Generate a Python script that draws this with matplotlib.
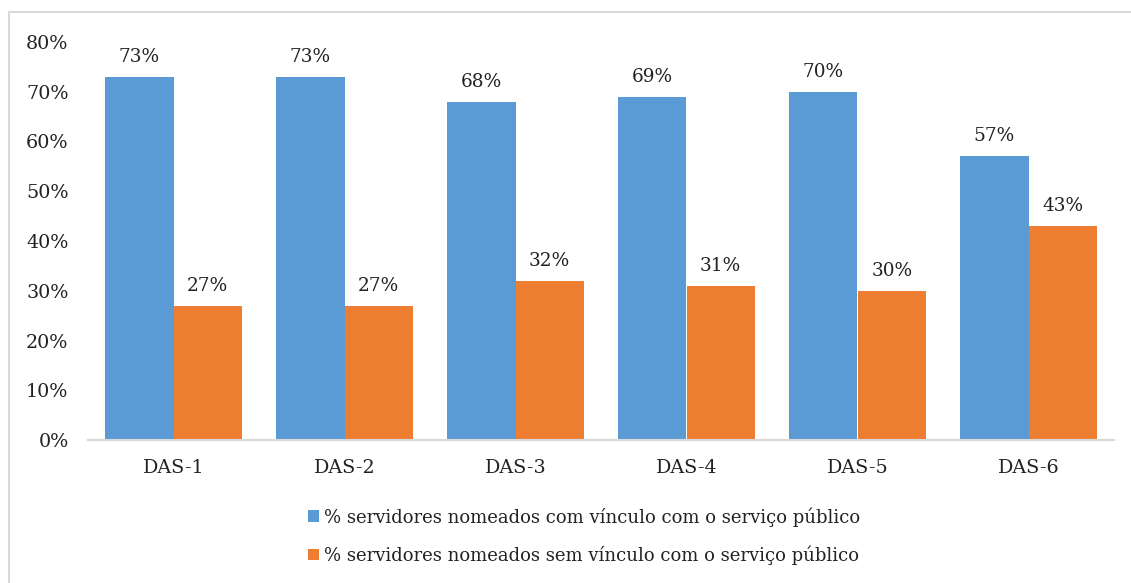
import matplotlib
matplotlib.use("Agg")
import matplotlib.pyplot as plt
from matplotlib.patches import Rectangle
import numpy as np

# dados
categorias = ["DAS-1", "DAS-2", "DAS-3", "DAS-4", "DAS-5", "DAS-6"]
com_vinculo = [0.73, 0.73, 0.68, 0.69, 0.70, 0.57]
sem_vinculo = [0.27, 0.27, 0.32, 0.31, 0.30, 0.43]
rotulos_com = ["73%", "73%", "68%", "69%", "70%", "57%"]
rotulos_sem = ["27%", "27%", "32%", "31%", "30%", "43%"]
serie_com = "% servidores nomeados com vínculo com o serviço público"
serie_sem = "% servidores nomeados sem vínculo com o serviço público"

azul = "#5B9BD5"
laranja = "#ED7D31"
plt.rcParams["font.family"] = ["DejaVu Serif"]

fig = plt.figure(figsize=(11.31, 5.83), dpi=100)
ax = fig.add_axes([88 / 1131, 1 - 440 / 583, (1114 - 88) / 1131, (440 - 42) / 583])

x = np.arange(len(categorias))
w = 0.4
b1 = ax.bar(x - w / 2, com_vinculo, w, color=azul, label=serie_com)
b2 = ax.bar(x + w / 2, sem_vinculo, w, color=laranja, label=serie_sem)

for rects, labs in ((b1, rotulos_com), (b2, rotulos_sem)):
    for r, lab in zip(rects, labs):
        ax.annotate(lab, (r.get_x() + r.get_width() / 2, r.get_height()),
                    xytext=(0, 8), textcoords="offset points",
                    ha="center", va="bottom", fontsize=13.3, color="#222222")

ax.set_xlim(-0.5, len(categorias) - 0.5)
ax.set_ylim(0, 0.8)
ax.set_yticks(np.arange(0, 0.81, 0.1))
ax.set_yticklabels([f"{int(round(v * 100))}%" for v in np.arange(0, 0.81, 0.1)])
ax.set_xticks(x)
ax.set_xticklabels(categorias)
ax.tick_params(axis="both", length=0, labelsize=13.8, colors="#222222")
ax.tick_params(axis="x", pad=14)
ax.tick_params(axis="y", pad=14)
for s in ("top", "right", "left"):
    ax.spines[s].set_visible(False)
ax.spines["bottom"].set_color("#d9d9d9")
ax.spines["bottom"].set_linewidth(1.5)

fig.legend(handles=[b1, b2], loc="center", bbox_to_anchor=(584 / 1131, 1 - 536 / 583),
           ncol=1, frameon=False, fontsize=13, handlelength=0.62, handleheight=0.62,
           handletextpad=0.3, labelspacing=1.05, labelcolor="#222222")

fig.patches.append(Rectangle((9 / 1131, -0.1), 1.2, 1.1 - 12 / 583,
                             transform=fig.transFigure, fill=False,
                             edgecolor="#d9d9d9", linewidth=1.5))

fig.savefig("out.png", dpi=100)
